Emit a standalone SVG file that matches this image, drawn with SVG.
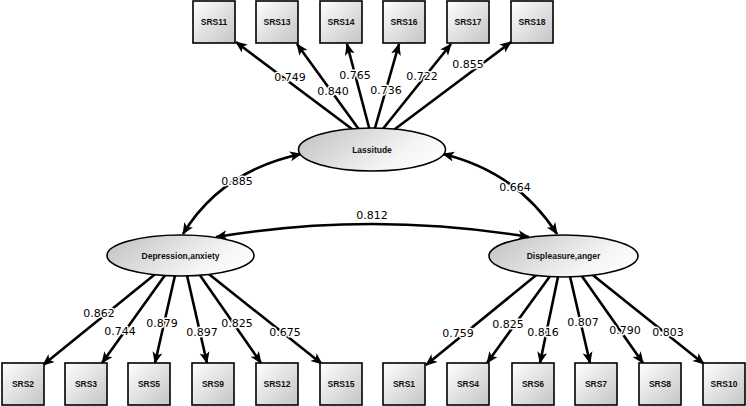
<svg xmlns="http://www.w3.org/2000/svg" width="746" height="406" viewBox="0 0 746 406">
<defs>
<linearGradient id="gb" x1="0" y1="0" x2="1" y2="1">
<stop offset="0" stop-color="#ffffff"/>
<stop offset="1" stop-color="#c4c4c4"/>
</linearGradient>
<linearGradient id="ge" x1="0" y1="0.3" x2="1" y2="0.7">
<stop offset="0" stop-color="#c6c6c6"/>
<stop offset="0.7" stop-color="#f4f4f4"/>
<stop offset="1" stop-color="#ffffff"/>
</linearGradient>
<marker id="ah" markerUnits="userSpaceOnUse" markerWidth="12" markerHeight="12" viewBox="0 0 12 12" refX="11" refY="6" orient="auto-start-reverse">
<path d="M0,1 L12,6 L0,11 L3,6 z" fill="#000"/>
</marker>
<style>
.c{stroke:#000;stroke-width:2.6;fill:none;marker-end:url(#ah)}
.cv{stroke:#000;stroke-width:2.6;fill:none;marker-end:url(#ah);marker-start:url(#ah)}
.b{fill:url(#gb);stroke:#000;stroke-width:1.6}
.e{fill:url(#ge);stroke:#000;stroke-width:1.6}
.t{font-family:"Liberation Sans",Arial,sans-serif;font-size:8.5px;font-weight:bold;text-anchor:middle;fill:#111}
.l{font-family:"DejaVu Sans",Verdana,sans-serif;font-size:11px;text-anchor:middle;fill:#000;stroke:#fff;stroke-width:3;paint-order:stroke;stroke-linejoin:round}
</style>
</defs>
<rect width="746" height="406" fill="#fff"/>
<g id="connectors">
<line class="c" x1="360" y1="135" x2="236" y2="42"/>
<line class="c" x1="363" y1="135" x2="297" y2="44"/>
<line class="c" x1="371" y1="135" x2="347" y2="44"/>
<line class="c" x1="373" y1="135" x2="399" y2="44"/>
<line class="c" x1="378" y1="135" x2="451" y2="44"/>
<line class="c" x1="387" y1="135" x2="511" y2="42"/>
<line class="c" x1="159" y1="271" x2="43" y2="365"/>
<line class="c" x1="168" y1="271" x2="102" y2="363"/>
<line class="c" x1="176" y1="271" x2="155" y2="363"/>
<line class="c" x1="186" y1="271" x2="207" y2="363"/>
<line class="c" x1="197" y1="271" x2="261" y2="363"/>
<line class="c" x1="205" y1="271" x2="322" y2="364"/>
<line class="c" x1="540" y1="272" x2="426" y2="365"/>
<line class="c" x1="553" y1="272" x2="487" y2="363"/>
<line class="c" x1="559" y1="272" x2="540" y2="363"/>
<line class="c" x1="569" y1="272" x2="590" y2="363"/>
<line class="c" x1="579" y1="272" x2="643" y2="363"/>
<line class="c" x1="589" y1="272" x2="704" y2="364"/>
<path class="cv" d="M183,234 Q221,171 301,154"/>
<path class="cv" d="M443,154 Q517,172 557,234"/>
<path class="cv" d="M216,237 Q372,211 529,237"/>
<text class="l" x="290" y="81">0.749</text>
<text class="l" x="333" y="95">0.840</text>
<text class="l" x="355" y="79">0.765</text>
<text class="l" x="386" y="94">0.736</text>
<text class="l" x="422" y="80">0.722</text>
<text class="l" x="468" y="68">0.855</text>
<text class="l" x="237" y="185">0.885</text>
<text class="l" x="515" y="191">0.664</text>
<text class="l" x="372" y="219">0.812</text>
<text class="l" x="99" y="317">0.862</text>
<text class="l" x="120" y="335">0.744</text>
<text class="l" x="162" y="327">0.879</text>
<text class="l" x="202" y="336">0.897</text>
<text class="l" x="237" y="327">0.825</text>
<text class="l" x="285" y="336">0.675</text>
<text class="l" x="458" y="337">0.759</text>
<text class="l" x="508" y="328">0.825</text>
<text class="l" x="543" y="336">0.816</text>
<text class="l" x="583" y="326">0.807</text>
<text class="l" x="625" y="334">0.790</text>
<text class="l" x="668" y="336">0.803</text>
</g>
<g id="Lassitude"><ellipse class="e" cx="372" cy="149.5" rx="73.5" ry="21.5"/><text class="t" x="372" y="152.5">Lassitude</text></g>
<g id="Depression"><ellipse class="e" cx="180.5" cy="255.5" rx="73.5" ry="20.5"/><text class="t" x="180.5" y="258.5">Depression,anxiety</text></g>
<g id="Displeasure"><ellipse class="e" cx="563.5" cy="256" rx="74.5" ry="21"/><text class="t" x="563.5" y="259">Displeasure,anger</text></g>
<g id="SRS11"><rect class="b" x="193" y="1" width="42" height="42"/><text class="t" x="214" y="25">SRS11</text></g>
<g id="SRS13"><rect class="b" x="256" y="1" width="42" height="42"/><text class="t" x="277" y="25">SRS13</text></g>
<g id="SRS14"><rect class="b" x="320" y="1" width="42" height="42"/><text class="t" x="341" y="25">SRS14</text></g>
<g id="SRS16"><rect class="b" x="383" y="1" width="42" height="42"/><text class="t" x="404" y="25">SRS16</text></g>
<g id="SRS17"><rect class="b" x="447" y="1" width="42" height="42"/><text class="t" x="468" y="25">SRS17</text></g>
<g id="SRS18"><rect class="b" x="511" y="1" width="42" height="42"/><text class="t" x="532" y="25">SRS18</text></g>
<g id="SRS2"><rect class="b" x="2" y="363" width="42" height="42"/><text class="t" x="23" y="387">SRS2</text></g>
<g id="SRS3"><rect class="b" x="65" y="363" width="42" height="42"/><text class="t" x="86" y="387">SRS3</text></g>
<g id="SRS5"><rect class="b" x="128" y="363" width="42" height="42"/><text class="t" x="149" y="387">SRS5</text></g>
<g id="SRS9"><rect class="b" x="192" y="363" width="42" height="42"/><text class="t" x="213" y="387">SRS9</text></g>
<g id="SRS12"><rect class="b" x="256" y="363" width="42" height="42"/><text class="t" x="277" y="387">SRS12</text></g>
<g id="SRS15"><rect class="b" x="320" y="363" width="42" height="42"/><text class="t" x="341" y="387">SRS15</text></g>
<g id="SRS1"><rect class="b" x="383" y="363" width="42" height="42"/><text class="t" x="404" y="387">SRS1</text></g>
<g id="SRS4"><rect class="b" x="447" y="363" width="42" height="42"/><text class="t" x="468" y="387">SRS4</text></g>
<g id="SRS6"><rect class="b" x="512" y="363" width="42" height="42"/><text class="t" x="533" y="387">SRS6</text></g>
<g id="SRS7"><rect class="b" x="575" y="363" width="42" height="42"/><text class="t" x="596" y="387">SRS7</text></g>
<g id="SRS8"><rect class="b" x="639" y="363" width="42" height="42"/><text class="t" x="660" y="387">SRS8</text></g>
<g id="SRS10"><rect class="b" x="703" y="363" width="42" height="42"/><text class="t" x="724" y="387">SRS10</text></g>
</svg>
